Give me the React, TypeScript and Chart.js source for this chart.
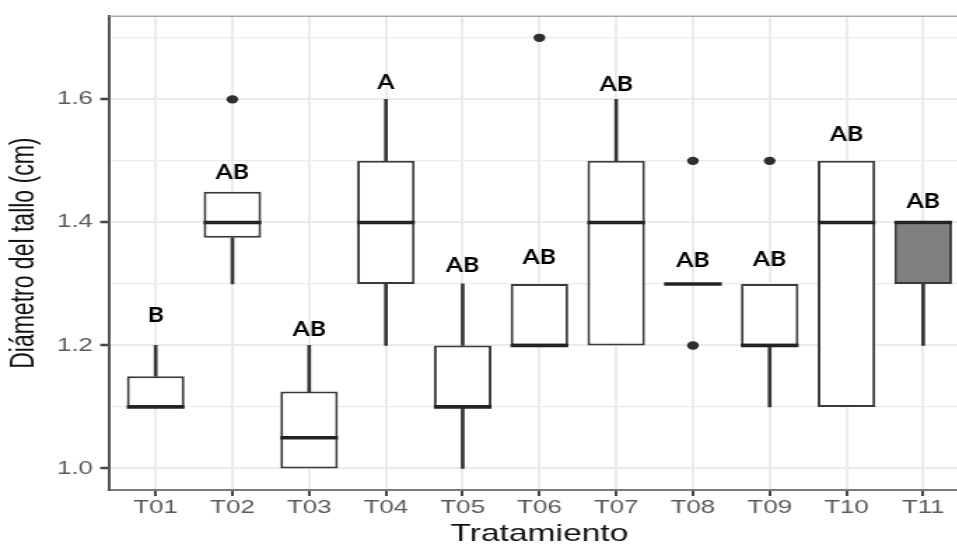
import { useEffect, useRef } from 'react';
import { Chart, registerables } from 'chart.js';

Chart.register(...registerables);

// ---- data ----
const categories = ['T01', 'T02', 'T03', 'T04', 'T05', 'T06', 'T07', 'T08', 'T09', 'T10', 'T11'];
const q1 = [1.1, 1.375, 1.0, 1.3, 1.1, 1.2, 1.2, 1.3, 1.2, 1.1, 1.3];
const medians = [1.1, 1.4, 1.05, 1.4, 1.1, 1.2, 1.4, 1.3, 1.2, 1.4, 1.4];
const q3 = [1.15, 1.45, 1.125, 1.5, 1.2, 1.3, 1.5, 1.3, 1.3, 1.5, 1.4];
const whiskerLow = [1.1, 1.3, 1.0, 1.2, 1.0, 1.2, 1.2, 1.3, 1.1, 1.1, 1.2];
const whiskerHigh = [1.2, 1.45, 1.2, 1.6, 1.3, 1.3, 1.6, 1.3, 1.3, 1.5, 1.4];
const outlierCats = ['T02', 'T06', 'T08', 'T08', 'T09'];
const outlierValues = [1.6, 1.7, 1.5, 1.2, 1.5];
const groupLetters = ['B', 'AB', 'AB', 'A', 'AB', 'AB', 'AB', 'AB', 'AB', 'AB', 'AB'];
const letterY = [1.251, 1.482, 1.228, 1.629, 1.331, 1.344, 1.626, 1.339, 1.342, 1.545, 1.435];
const boxFills = ['#ffffff', '#ffffff', '#ffffff', '#ffffff', '#ffffff', '#ffffff', '#ffffff', '#ffffff', '#ffffff', '#ffffff', '#7f7f7f'];
const yTicks = [1.0, 1.1, 1.2, 1.3, 1.4, 1.5, 1.6, 1.7];
const yMin = 0.965;
const yMax = 1.735;

// ---- layout (canvas is stretched horizontally like the reference) ----
const S = 1.4;
const W = 696;
const H = 552;

const isMajor = (v: number) => Math.round(v * 10) % 2 === 0;

const lettersPlugin = {
  id: 'letters',
  afterDatasetsDraw(chart: any) {
    const { ctx, scales } = chart;
    ctx.save();
    ctx.font = 'bold 21px Lato';
    ctx.fillStyle = '#000000';
    ctx.textAlign = 'center';
    ctx.textBaseline = 'alphabetic';
    groupLetters.forEach((t, i) => {
      const px = scales.x.getPixelForValue(i);
      const py = scales.y.getPixelForValue(letterY[i]) + 7.5;
      ctx.save();
      ctx.translate(px, py);
      ctx.scale(0.84, 1);
      ctx.fillText(t, 0, 0);
      ctx.restore();
    });
    ctx.restore();
  },
};

const topBorderPlugin = {
  id: 'topBorder',
  beforeDatasetsDraw(chart: any) {
    const { ctx, chartArea } = chart;
    ctx.save();
    ctx.strokeStyle = '#a8a8a8';
    ctx.lineWidth = 1.5;
    ctx.beginPath();
    ctx.moveTo(chartArea.left, chartArea.top);
    ctx.lineTo(chartArea.right + 10, chartArea.top);
    ctx.stroke();
    ctx.restore();
  },
};

export default function App() {
  const ref = useRef<HTMLCanvasElement>(null);

  useEffect(() => {
    const upper = categories
      .map((_, i) => ({ x: i, y: [q3[i], whiskerHigh[i]] }))
      .filter((d) => d.y[1] > d.y[0]);
    const lower = categories
      .map((_, i) => ({ x: i, y: [whiskerLow[i], q1[i]] }))
      .filter((d) => d.y[1] > d.y[0]);

    const chart = new Chart(ref.current as HTMLCanvasElement, {
      type: 'bar',
      data: {
        datasets: [
          {
            type: 'bar',
            data: upper as any,
            backgroundColor: '#333333',
            borderWidth: 0,
            barThickness: 2,
            grouped: false,
            order: 3,
          } as any,
          {
            type: 'bar',
            data: lower as any,
            backgroundColor: '#333333',
            borderWidth: 0,
            barThickness: 2,
            grouped: false,
            order: 3,
          } as any,
          {
            type: 'bar',
            data: categories.map((_, i) => ({ x: i, y: [q1[i], q3[i]] })) as any,
            backgroundColor: boxFills,
            borderColor: '#3a3a3a',
            borderWidth: 2,
            borderSkipped: false,
            barPercentage: 0.75,
            categoryPercentage: 1,
            grouped: false,
            order: 2,
          } as any,
          {
            type: 'line',
            data: categories.map((_, i) => ({ x: i, y: medians[i] })) as any,
            showLine: false,
            pointStyle: 'line',
            pointRadius: 20.6,
            pointHoverRadius: 20.6,
            pointBorderWidth: 3.5,
            pointBorderColor: '#222222',
            order: 1,
          } as any,
          {
            type: 'line',
            data: outlierCats.map((c, i) => ({ x: categories.indexOf(c), y: outlierValues[i] })) as any,
            showLine: false,
            pointStyle: 'circle',
            pointRadius: 4.2,
            pointHoverRadius: 4.2,
            pointBorderWidth: 0,
            pointBackgroundColor: '#2e2e2e',
            pointBorderColor: '#2e2e2e',
            order: 0,
          } as any,
        ],
      },
      options: {
        responsive: false,
        animation: false,
        devicePixelRatio: 1,
        layout: { autoPadding: false, padding: { left: 0, right: 3.7, top: 16, bottom: 0 } },
        plugins: {
          legend: { display: false },
          tooltip: { enabled: false },
        },
        scales: {
          x: {
            type: 'linear',
            min: -0.6,
            max: 10.6,
            offset: false,
            afterBuildTicks: (scale: any) => {
              scale.ticks = categories.map((_, i) => ({ value: i }));
            },
            afterFit: (scale: any) => {
              scale.height = 62;
            },
            grid: {
              offset: false,
              color: '#ebebeb',
              lineWidth: 2,
              drawTicks: true,
              tickLength: 6,
              tickColor: '#444444',
              tickWidth: 2,
            },
            border: { display: true, color: '#7a7a7a', width: 2 },
            ticks: {
              autoSkip: false,
              maxRotation: 0,
              padding: 1,
              color: '#595959',
              font: { family: 'Liberation Sans', size: 18.5 },
              callback: (v: any) => categories[Math.round(Number(v))] ?? '',
            },
            title: {
              display: true,
              text: 'Tratamiento',
              color: '#111111',
              font: { family: 'Liberation Sans', size: 24 },
              padding: { top: 0, bottom: 3.6 },
            },
          } as any,
          y: {
            type: 'linear',
            min: yMin,
            max: yMax,
            afterBuildTicks: (scale: any) => {
              scale.ticks = yTicks.map((v) => ({ value: v }));
            },
            afterFit: (scale: any) => {
              scale.width = 78.3;
            },
            grid: {
              color: '#ebebeb',
              lineWidth: (ctx: any) => (ctx.tick && isMajor(ctx.tick.value) ? 2 : 1.2),
              drawTicks: true,
              tickLength: 6.7,
              tickColor: (ctx: any) => (ctx.tick && isMajor(ctx.tick.value) ? '#444444' : 'rgba(0,0,0,0)'),
              tickWidth: 2.5,
            },
            border: { display: true, color: '#555555', width: 2 },
            ticks: {
              autoSkip: false,
              padding: 5.2,
              color: '#595959',
              font: { family: 'Liberation Sans', size: 18.5 },
              callback: (v: any) => (isMajor(Number(v)) ? Number(v).toFixed(1) : ''),
            },
            title: {
              display: true,
              text: 'Diámetro del tallo (cm)',
              color: '#111111',
              font: { family: 'Liberation Sans', size: 23 },
              padding: { top: 4, bottom: 0 },
            },
          } as any,
        },
      },
      plugins: [topBorderPlugin, lettersPlugin],
    } as any);
    return () => chart.destroy();
  }, []);

  return (
    <div
      style={{
        position: 'fixed',
        left: 0,
        top: 0,
        width: 957,
        height: 544,
        overflow: 'hidden',
        background: '#ffffff',
      }}
    >
      <div style={{ transform: `scaleX(${S})`, transformOrigin: '0 0', width: W, height: H }}>
        <canvas ref={ref} width={W} height={H} style={{ width: W, height: H, display: 'block' }} />
      </div>
    </div>
  );
}
